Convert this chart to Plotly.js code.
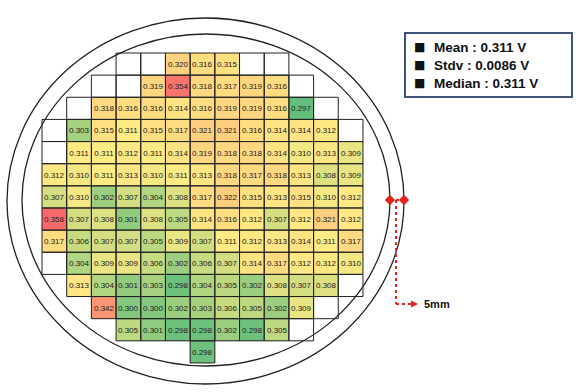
<!DOCTYPE html>
<html>
<head>
<meta charset="utf-8">
<script src="https://cdn.plot.ly/plotly-3.0.1.min.js"></script>
<style>html,body{margin:0;padding:0;background:#fff;}#chart{width:584px;height:392px;}</style>
</head>
<body>
<div id="chart"></div>
<script>
const n = null;
// Wafer map values, one array per row (null = no measured value)
const row0  = [n,n,n,n,n,0.320,0.316,0.315,n,n,n,n,n];
const row1  = [n,n,n,n,0.319,0.354,0.318,0.317,0.319,0.316,n,n,n];
const row2  = [n,n,0.318,0.316,0.316,0.314,0.316,0.319,0.319,0.316,0.297,n,n];
const row3  = [n,0.303,0.315,0.311,0.315,0.317,0.321,0.321,0.316,0.314,0.314,0.312,n];
const row4  = [n,0.311,0.311,0.312,0.311,0.314,0.319,0.318,0.318,0.314,0.310,0.313,0.309];
const row5  = [0.312,0.310,0.311,0.313,0.310,0.311,0.313,0.318,0.317,0.318,0.313,0.308,0.309];
const row6  = [0.307,0.310,0.302,0.307,0.304,0.308,0.317,0.322,0.315,0.313,0.315,0.310,0.312];
const row7  = [0.358,0.307,0.308,0.301,0.308,0.305,0.314,0.316,0.312,0.307,0.312,0.321,0.312];
const row8  = [0.317,0.306,0.307,0.307,0.305,0.309,0.307,0.311,0.312,0.313,0.314,0.311,0.317];
const row9  = [n,0.304,0.309,0.309,0.306,0.302,0.306,0.307,0.314,0.317,0.312,0.312,0.310];
const row10 = [n,0.313,0.304,0.301,0.303,0.298,0.304,0.305,0.302,0.308,0.307,0.308,n];
const row11 = [n,n,0.342,0.300,0.300,0.302,0.303,0.306,0.305,0.302,0.309,n,n];
const row12 = [n,n,n,0.305,0.301,0.298,0.298,0.302,0.298,0.305,n,n,n];
const row13 = [n,n,n,n,n,n,0.298,n,n,n,n,n,n];
// first and last outlined die column in each row
const boxStart = [3,2,1,0,0,0,0,0,0,0,1,2,3,6];
const boxEnd   = [9,10,11,12,12,12,12,12,12,12,12,11,10,6];
// statistics labels
const statLabels = ["Mean : 0.311 V", "Stdv : 0.0086 V", "Median : 0.311 V"];
const scaleLabel = "5mm";

const z = [row0,row1,row2,row3,row4,row5,row6,row7,row8,row9,row10,row11,row12,row13];
const colIdx = z[0].map((_, i) => i);
const rowIdx = z.map((_, i) => i);
const all = z.flat().filter(v => v !== null);
const zmin = Math.min(...all), zmax = Math.max(...all);
const sorted = all.slice().sort((a,b)=>a-b);
const median = sorted[Math.floor(sorted.length/2)];
const mid = (median - zmin) / (zmax - zmin);

const heat = {
  type: 'heatmap', x: colIdx, y: rowIdx, z: z,
  zmin: zmin, zmax: zmax,
  colorscale: [[0,'#63BE7B'],[mid,'#FFEB84'],[1,'#F8696B']],
  showscale: false, hoverinfo: 'skip',
  texttemplate: '%{z:.3f}',
  textfont: {family: 'Liberation Sans, Arial, sans-serif', size: 8, color: '#222'}
};

const shapes = [];
// wafer outlines (pixel overlay axes)
shapes.push({type:'circle', xref:'x2', yref:'y2', x0:7, x1:404, y0:18, y1:384, line:{color:'#222', width:1.3}, layer:'below'});
shapes.push({type:'circle', xref:'x2', yref:'y2', x0:22, x1:390, y0:34, y1:366, line:{color:'#222', width:1.3}, layer:'below'});
// die outlines
rowIdx.forEach(r => {
  for (let c = boxStart[r]; c <= boxEnd[r]; c++) {
    shapes.push({type:'rect', xref:'x', yref:'y', x0:c-0.5, x1:c+0.5, y0:r-0.5, y1:r+0.5,
      line:{color:'#222', width:1}, fillcolor:'rgba(0,0,0,0)', layer:'above'});
  }
});
// stats box
shapes.push({type:'rect', xref:'x2', yref:'y2', x0:405, x1:572, y0:33, y1:97, line:{color:'#3f5478', width:2}});
// 5mm indicator
const red = '#e3241f';
shapes.push({type:'line', xref:'x2', yref:'y2', x0:390, x1:404, y0:200, y1:200, line:{color:red, width:2, dash:'dot'}});
shapes.push({type:'line', xref:'x2', yref:'y2', x0:396, x1:396, y0:200, y1:304, line:{color:red, width:2, dash:'dot'}});
shapes.push({type:'line', xref:'x2', yref:'y2', x0:396, x1:412, y0:304, y1:304, line:{color:red, width:2, dash:'dot'}});
shapes.push({type:'path', xref:'x2', yref:'y2', path:'M 411 300.5 L 418 304 L 411 307.5 Z', fillcolor:red, line:{color:red, width:0}});

const markers = {type:'scatter', mode:'markers', xaxis:'x2', yaxis:'y2', x:[390,404], y:[200,200],
  marker:{symbol:'diamond', size:8, color:red}, hoverinfo:'skip'};

const annotations = [];
statLabels.forEach((t, i) => {
  const y = 47 + i*18;
  annotations.push({xref:'x2', yref:'y2', x:419, y:y, text:'■', showarrow:false, xanchor:'center', yanchor:'middle',
    font:{family:'DejaVu Sans, sans-serif', size:12, color:'#111'}});
  annotations.push({xref:'x2', yref:'y2', x:432, y:y, text:'<b>'+t+'</b>', showarrow:false, xanchor:'left', yanchor:'middle',
    font:{family:'Liberation Sans, Arial, sans-serif', size:13.5, color:'#111'}});
});
annotations.push({xref:'x2', yref:'y2', x:422, y:304, text:'<b>'+scaleLabel+'</b>', showarrow:false, xanchor:'left', yanchor:'middle',
  font:{family:'Liberation Sans, Arial, sans-serif', size:11, color:'#111'}});

const W = 584, H = 392, cw = 24.69, ch = 22.14, gx = 42, gy = 53;
const layout = {
  width: W, height: H, margin:{l:0,r:0,t:0,b:0},
  paper_bgcolor:'#fff', plot_bgcolor:'rgba(0,0,0,0)', showlegend:false,
  xaxis:{range:[-0.5 - gx/cw, -0.5 + (W-gx)/cw], visible:false, fixedrange:true},
  yaxis:{range:[-0.5 + (H-gy)/ch, -0.5 - gy/ch], visible:false, fixedrange:true},
  xaxis2:{range:[0,W], overlaying:'x', visible:false, fixedrange:true},
  yaxis2:{range:[H,0], overlaying:'y', visible:false, fixedrange:true},
  shapes: shapes, annotations: annotations
};
Plotly.newPlot('chart', [heat, markers], layout, {staticPlot:true, displayModeBar:false});
</script>
</body>
</html>
